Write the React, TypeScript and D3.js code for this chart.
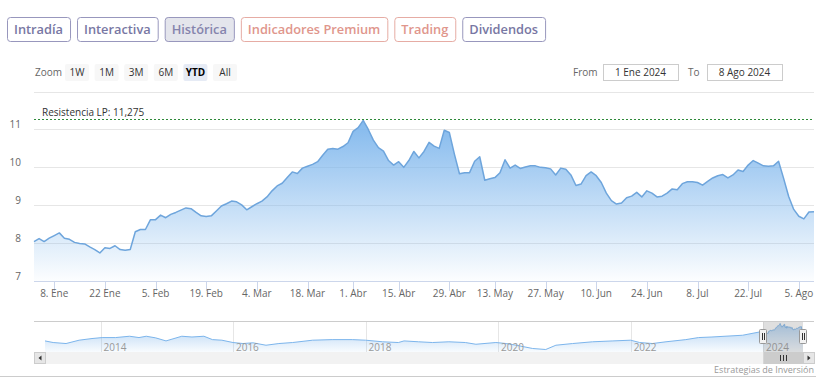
import React, { useEffect, useRef } from "react";
import * as d3 from "d3";

const WIDTH = 828;
const HEIGHT = 392;
const FONT = "'Open Sans', sans-serif";

// closing price for each trading day, 2 Ene 2024 -> 8 Ago 2024
const closes = [
  8.04, 8.12, 8.04, 8.13, 8.2, 8.27, 8.13, 8.1, 8.02, 7.99,
  7.98, 7.9, 7.83, 7.74, 7.88, 7.86, 7.93, 7.83, 7.81, 7.83,
  8.3, 8.36, 8.36, 8.62, 8.62, 8.74, 8.67, 8.76, 8.81, 8.87,
  8.93, 8.91, 8.81, 8.72, 8.7, 8.72, 8.85, 8.98, 9.04, 9.11,
  9.09, 9.01, 8.88, 8.96, 9.04, 9.11, 9.22, 9.38, 9.51, 9.58,
  9.73, 9.88, 9.84, 9.98, 10.03, 10.08, 10.15, 10.32, 10.48, 10.5,
  10.48, 10.55, 10.65, 10.95, 11.05, 11.24, 11.0, 10.72, 10.52, 10.43,
  10.18, 10.06, 10.15, 10.0, 10.18, 10.42, 10.25, 10.42, 10.66, 10.56,
  10.5, 10.98, 10.92, 10.35, 9.83, 9.86, 9.86, 10.16, 10.28, 9.66,
  9.7, 9.73, 9.86, 10.2, 9.98, 10.06, 9.97, 10.01, 10.04, 10.04,
  10.0, 9.99, 9.96, 9.8, 9.98, 9.95, 9.8, 9.52, 9.56, 9.78,
  9.88, 9.78, 9.6, 9.32, 9.12, 9.03, 9.06, 9.2, 9.24, 9.34,
  9.22, 9.38, 9.32, 9.22, 9.24, 9.32, 9.43, 9.41, 9.57, 9.62,
  9.62, 9.6, 9.53, 9.63, 9.72, 9.78, 9.81, 9.72, 9.8, 9.93,
  9.89, 10.06, 10.18, 10.11, 10.04, 10.03, 10.04, 10.16, 9.71, 9.23,
  8.89, 8.71, 8.64, 8.82, 8.83,
];

// market closed on these weekdays
const holidays = ["2024-01-01", "2024-03-29", "2024-04-01", "2024-05-01"];

const tickDates = [
  "2024-01-08", "2024-01-22", "2024-02-05", "2024-02-19", "2024-03-04", "2024-03-18",
  "2024-04-01", "2024-04-15", "2024-04-29", "2024-05-13", "2024-05-27", "2024-06-10",
  "2024-06-24", "2024-07-08", "2024-07-22", "2024-08-05",
];
const tickLabels = [
  "8. Ene", "22 Ene", "5. Feb", "19. Feb", "4. Mar", "18. Mar", "1. Abr", "15. Abr",
  "29. Abr", "13. May", "27. May", "10. Jun", "24. Jun", "8. Jul", "22. Jul", "5. Ago",
];
const yTicks = [7, 8, 9, 10, 11, 12];
const resistance = 11.275;

// long history for the navigator (before 2024)
const navDates = [
  "2013-03-01", "2013-04-15", "2013-06-25", "2013-09-05", "2013-11-15", "2014-01-10",
  "2014-03-25", "2014-06-10", "2014-08-01", "2014-09-10", "2014-11-01", "2014-12-28",
  "2015-03-25", "2015-05-20", "2015-07-25", "2015-09-10", "2015-11-01", "2016-01-01",
  "2016-02-25", "2016-04-20", "2016-07-01", "2016-09-10", "2016-11-25", "2017-03-15",
  "2017-07-01", "2017-10-20", "2018-01-01", "2018-04-05", "2018-07-01", "2018-08-01",
  "2018-10-20", "2019-01-05", "2019-04-05", "2019-07-05", "2019-09-01", "2019-12-20",
  "2020-02-15", "2020-04-10", "2020-07-10", "2020-09-20", "2020-11-15", "2021-02-15",
  "2021-06-05", "2021-09-25", "2022-01-01", "2022-02-20", "2022-05-01", "2022-07-15",
  "2022-11-01", "2023-01-10", "2023-03-25", "2023-06-05", "2023-09-10", "2023-12-10",
];
const navValues = [
  5.25, 4.7, 4.35, 5.5, 6.07, 6.4,
  6.4, 6.86, 6.4, 6.86, 6.3, 5.25,
  6.86, 6.6, 6.86, 5.7, 5.5, 4.7,
  4.35, 4.6, 3.77, 4.35, 4.7, 5.5,
  5.7, 5.7, 5.5, 4.95, 4.7, 5.25,
  4.95, 4.7, 4.95, 4.7, 4.1, 4.7,
  4.35, 3.77, 2.64, 2.3, 3.77, 4.35,
  4.95, 5.25, 5.5, 4.7, 4.35, 4.95,
  5.7, 6.4, 6.6, 6.86, 7.2, 8.3,
];
const navYears = [2014, 2016, 2018, 2020, 2022, 2024];

const tabs = ["Intradía", "Interactiva", "Histórica", "Indicadores Premium", "Trading", "Dividendos"];
const premiumTabs = ["Indicadores Premium", "Trading"];
const activeTab = "Histórica";
const zoomButtons = ["1W", "1M", "3M", "6M", "YTD", "All"];
const activeZoom = "YTD";
const fromText = "1 Ene 2024";
const toText = "8 Ago 2024";

const parseDay = d3.timeParse("%Y-%m-%d");
const fmtDay = d3.timeFormat("%Y-%m-%d");
const esNum = d3.formatLocale({ decimal: ",", thousands: ".", grouping: [3], currency: ["", " €"] });

const App = () => {
  const ref = useRef<SVGSVGElement | null>(null);

  useEffect(() => {
    const svg = d3.select(ref.current);
    svg.selectAll("*").remove();

    // trading calendar
    const days: Date[] = [];
    for (let d = new Date(2024, 0, 1); days.length < closes.length; d = d3.timeDay.offset(d, 1)) {
      const wd = d.getDay();
      if (wd === 0 || wd === 6 || holidays.includes(fmtDay(d))) continue;
      days.push(d);
    }

    // ---- tabs
    let tx = 7;
    tabs.forEach((name) => {
      const premium = premiumTabs.includes(name);
      const g = svg.append("g");
      const rect = g.append("rect");
      const t = g
        .append("text")
        .attr("y", 34)
        .attr("font-family", FONT)
        .attr("font-size", 12.8)
        .attr("font-weight", 600)
        .attr("fill", premium ? "#e0968c" : name === activeTab ? "#8584ad" : "#7877a3")
        .text(name);
      const w = (t.node() as SVGTextElement).getComputedTextLength();
      t.attr("x", tx + 7);
      rect
        .attr("x", tx + 0.5)
        .attr("y", 17.5)
        .attr("width", w + 14)
        .attr("height", 24)
        .attr("rx", 3)
        .attr("fill", name === activeTab ? "#e4e5ec" : "#fff")
        .attr("stroke", premium ? "#e6aca4" : "#9897bd");
      tx += w + 14 + 7;
    });

    // ---- range selector
    svg.append("text").attr("x", 35).attr("y", 75.5).attr("font-family", FONT)
      .attr("font-size", 10).attr("fill", "#666").text("Zoom");
    zoomButtons.forEach((b, i) => {
      const x = 65 + i * 29.6;
      const on = b === activeZoom;
      svg.append("rect").attr("x", x).attr("y", 64).attr("width", 24).attr("height", 17)
        .attr("rx", 2).attr("fill", on ? "#e6ebf5" : "#f7f7f7");
      svg.append("text").attr("x", x + 12).attr("y", 75.5).attr("text-anchor", "middle")
        .attr("font-family", FONT).attr("font-size", 10)
        .attr("font-weight", on ? 700 : 400).attr("fill", on ? "#000" : "#333").text(b);
    });
    const inputs: [string, string, number, number][] = [
      ["From", fromText, 573, 603],
      ["To", toText, 688, 707],
    ];
    inputs.forEach(([lab, val, lx, bx]) => {
      svg.append("text").attr("x", lx).attr("y", 75.5).attr("font-family", FONT)
        .attr("font-size", 10).attr("fill", "#666").text(lab);
      svg.append("rect").attr("x", bx + 0.5).attr("y", 64.5).attr("width", 75).attr("height", 16)
        .attr("fill", "#fff").attr("stroke", "#cccccc");
      svg.append("text").attr("x", bx + 37.5).attr("y", 76).attr("text-anchor", "middle")
        .attr("font-family", FONT).attr("font-size", 10).attr("fill", "#333").text(val);
    });

    // ---- main chart
    const x = d3.scaleLinear().domain([0, closes.length - 1]).range([34, 814]);
    const y = d3.scaleLinear().domain([7, 12]).range([281, 91.6]);

    svg.append("g").selectAll("line").data(yTicks).join("line")
      .attr("x1", 34).attr("x2", 814)
      .attr("y1", (d) => Math.round(y(d)) + 0.5).attr("y2", (d) => Math.round(y(d)) + 0.5)
      .attr("stroke", "#e6e6e6");
    svg.append("g").selectAll("text").data(yTicks.slice(0, -1)).join("text")
      .attr("x", 21).attr("y", (d) => y(d) - 1.5).attr("text-anchor", "end")
      .attr("font-family", FONT).attr("font-size", 10).attr("fill", "#666")
      .text((d) => d);

    const defs = svg.append("defs");
    const grad = defs.append("linearGradient").attr("id", "areaGrad")
      .attr("x1", 0).attr("y1", 0).attr("x2", 0).attr("y2", 1);
    grad.append("stop").attr("offset", 0).attr("stop-color", "#7cb5ec").attr("stop-opacity", 0.95);
    grad.append("stop").attr("offset", 1).attr("stop-color", "#7cb5ec").attr("stop-opacity", 0.02);

    const area = d3.area<number>().x((_, i) => x(i)).y0(y(7)).y1((d) => y(d));
    const line = d3.line<number>().x((_, i) => x(i)).y((d) => y(d));
    svg.append("path").attr("d", area(closes)).attr("fill", "url(#areaGrad)");
    svg.append("path").attr("d", line(closes)).attr("fill", "none")
      .attr("stroke", "#6ea5dc").attr("stroke-width", 1.5).attr("stroke-linejoin", "round");

    // x axis
    svg.append("line").attr("x1", 34).attr("x2", 814).attr("y1", 281.5).attr("y2", 281.5)
      .attr("stroke", "#ccd6eb");
    const tickIdx = tickDates.map((s) => d3.bisectLeft(days, parseDay(s) as Date));
    svg.append("g").selectAll("line").data(tickIdx).join("line")
      .attr("x1", (d) => Math.round(x(d)) + 0.5).attr("x2", (d) => Math.round(x(d)) + 0.5)
      .attr("y1", 281).attr("y2", 291).attr("stroke", "#ccd6eb");
    svg.append("g").selectAll("text").data(tickIdx).join("text")
      .attr("x", (d) => x(d)).attr("y", 297).attr("text-anchor", "middle")
      .attr("font-family", FONT).attr("font-size", 10).attr("fill", "#666")
      .text((_, i) => tickLabels[i]);

    // resistance
    svg.append("line").attr("x1", 34).attr("x2", 814)
      .attr("y1", Math.round(y(resistance)) + 0.5).attr("y2", Math.round(y(resistance)) + 0.5)
      .attr("stroke", "#2f8a3a").attr("stroke-dasharray", "2,2");
    svg.append("text").attr("x", 42).attr("y", y(resistance) - 3).attr("font-family", FONT)
      .attr("font-size", 10).attr("fill", "#333")
      .text(`Resistencia LP: ${esNum.format(",.3f")(resistance)}`);

    // ---- navigator
    const nav = navDates
      .map((s, i) => ({ date: parseDay(s) as Date, v: navValues[i] }))
      .concat(days.map((d, i) => ({ date: d, v: closes[i] })));
    const nx = d3.scaleTime().domain([nav[0].date, days[days.length - 1]]).range([45, 803]);
    const ny = d3.scaleLinear()
      .domain([d3.min(nav, (d) => d.v) as number, d3.max(nav, (d) => d.v) as number])
      .range([349.5, 323.5]);

    svg.append("g").selectAll("line").data(navYears).join("line")
      .attr("x1", (d) => Math.round(nx(new Date(d, 0, 1))) + 0.5)
      .attr("x2", (d) => Math.round(nx(new Date(d, 0, 1))) + 0.5)
      .attr("y1", 321).attr("y2", 352).attr("stroke", "#e6e6e6");

    const ngrad = defs.append("linearGradient").attr("id", "navGrad")
      .attr("x1", 0).attr("y1", 0).attr("x2", 0).attr("y2", 1);
    ngrad.append("stop").attr("offset", 0).attr("stop-color", "#7cb5ec").attr("stop-opacity", 0.6);
    ngrad.append("stop").attr("offset", 1).attr("stop-color", "#7cb5ec").attr("stop-opacity", 0.05);
    const narea = d3.area<{ date: Date; v: number }>()
      .x((d) => nx(d.date)).y0(352).y1((d) => ny(d.v));
    const nline = d3.line<{ date: Date; v: number }>().x((d) => nx(d.date)).y((d) => ny(d.v));
    svg.append("path").attr("d", narea(nav)).attr("fill", "url(#navGrad)");
    svg.append("path").attr("d", nline(nav)).attr("fill", "none").attr("stroke", "#7cb5ec")
      .attr("stroke-width", 1);

    svg.append("g").selectAll("text").data(navYears).join("text")
      .attr("x", (d) => nx(new Date(d, 0, 1)) + 3).attr("y", 350.5)
      .attr("font-family", FONT).attr("font-size", 10).attr("fill", "#999")
      .text((d) => d);

    const selA = nx(days[0]);
    const selB = nx(days[days.length - 1]);
    svg.append("rect").attr("x", selA).attr("y", 321).attr("width", selB - selA).attr("height", 31)
      .attr("fill", "rgba(128,128,128,0.25)");
    svg.append("line").attr("x1", 34).attr("x2", 814).attr("y1", 321.5).attr("y2", 321.5)
      .attr("stroke", "#cccccc");

    [selA, selB].forEach((hx) => {
      const hxr = Math.round(hx);
      svg.append("rect").attr("x", hxr - 3.5).attr("y", 329.5).attr("width", 7).attr("height", 14)
        .attr("rx", 1).attr("fill", "#f2f2f2").attr("stroke", "#999");
      [-1, 1].forEach((o) => {
        svg.append("line").attr("x1", hxr + o + 0.5).attr("x2", hxr + o + 0.5)
          .attr("y1", 333).attr("y2", 340).attr("stroke", "#333");
      });
    });

    // scrollbar
    svg.append("rect").attr("x", 34).attr("y", 352).attr("width", 780).attr("height", 12)
      .attr("fill", "#f2f2f2");
    svg.append("rect").attr("x", selA).attr("y", 352).attr("width", selB - selA).attr("height", 12)
      .attr("fill", "#cccccc");
    const gx = Math.round((selA + selB) / 2);
    [-3, 0, 3].forEach((o) => {
      svg.append("line").attr("x1", gx + o + 0.5).attr("x2", gx + o + 0.5)
        .attr("y1", 355).attr("y2", 361).attr("stroke", "#333");
    });
    [
      [34, -1],
      [803, 1],
    ].forEach(([bx, dir]) => {
      svg.append("rect").attr("x", bx + 0.5).attr("y", 352.5).attr("width", 11).attr("height", 11)
        .attr("fill", "#e6e6e6").attr("stroke", "#cccccc");
      const cx = bx + 6;
      svg.append("path")
        .attr("d", `M${cx - dir * 1.5},355.5 L${cx + dir * 1.5},358 L${cx - dir * 1.5},360.5 Z`)
        .attr("fill", "#333");
    });

    svg.append("text").attr("x", 814).attr("y", 372.5).attr("text-anchor", "end")
      .attr("font-family", FONT).attr("font-size", 9).attr("fill", "#999")
      .text("Estrategias de Inversión");

    svg.append("line").attr("x1", 0).attr("x2", 816).attr("y1", 376.5).attr("y2", 376.5)
      .attr("stroke", "#cccccc");
  }, []);

  return (
    <svg
      ref={ref}
      width={WIDTH}
      height={HEIGHT}
      style={{ position: "absolute", left: 0, top: 0, background: "#fff" }}
    />
  );
};

export default App;
